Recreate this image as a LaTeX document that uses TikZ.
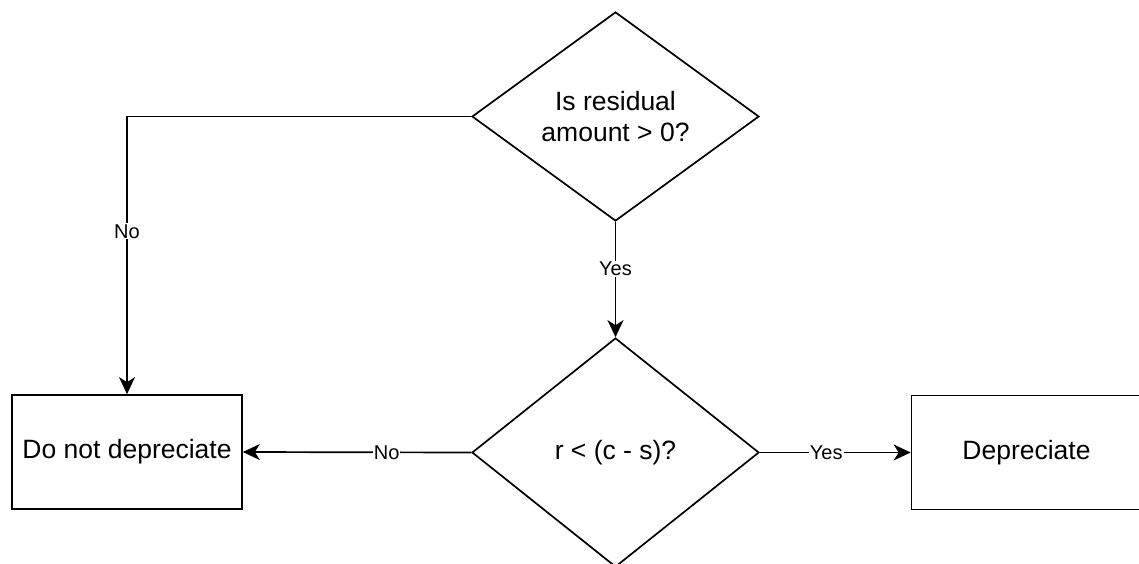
\documentclass[tikz,border=0pt]{standalone}
\usepackage{fontspec}
\setmainfont{Liberation Sans}
\usetikzlibrary{shapes.geometric,arrows.meta}
\begin{document}
\begin{tikzpicture}[x=1pt,y=-1pt,
  every node/.style={font=\fontsize{26.5}{31.8}\selectfont},
  decision/.style={draw, line width=1.7pt, diamond, inner sep=0pt, align=center, minimum width=287pt},
  procbox/.style={draw, line width=1.7pt, rectangle, inner sep=0pt, minimum width=230pt, minimum height=114pt},
  arr/.style={line width=1.7pt, -{Stealth[length=17pt,width=16pt,inset=5pt]}},
  lbl/.style={fill=white, inner sep=1pt, font=\fontsize{20}{24}\selectfont}]
\useasboundingbox (0,0) rectangle (1139,564);
\node[decision, minimum height=209pt] (d1) at (615.5,116.5) {Is residual\\amount > 0?};
\node[decision, minimum height=229pt] (d2) at (615.5,452.5) {r < (c - s)?};
\node[procbox] (b1) at (127,452) {Do not depreciate};
\node[procbox] (b2) at (1026.5,452.5) {Depreciate};
\draw[arr] (d1.west) -| node[lbl, pos=0.707] {No} (b1.north);
\draw[arr] (d1.south) -- node[lbl, pos=0.405] {Yes} (d2.north);
\draw[arr] (d2.west) -- node[lbl, pos=0.37] {No} (b1.east);
\draw[arr] (d2.east) -- node[lbl, pos=0.44] {Yes} (b2.west);
\end{tikzpicture}
\end{document}
